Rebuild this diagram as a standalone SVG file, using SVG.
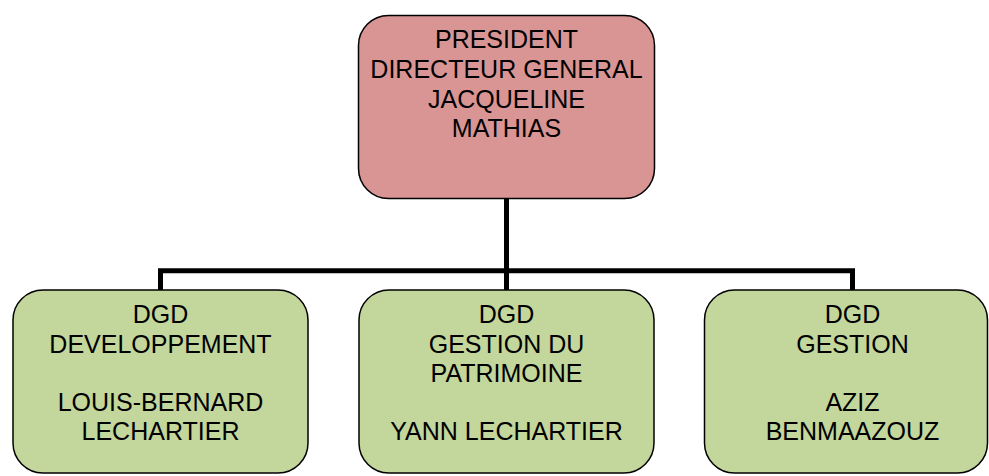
<svg xmlns="http://www.w3.org/2000/svg" width="989" height="476" viewBox="0 0 989 476">
<style>
.box{stroke:#000;stroke-width:1.5}
.top{fill:#D99594}
.sub{fill:#C3D69B}
.conn{fill:none;stroke:#000;stroke-width:5;stroke-linejoin:miter;stroke-linecap:butt}
text{font-family:"Liberation Sans",Arial,sans-serif;font-size:25px;fill:#000;text-anchor:middle}
</style>
<rect width="989" height="476" fill="#fff"/>
<g id="connectors">
<path class="conn" d="M506.5,198 V290"/>
<path class="conn" d="M160.5,290 V270.8 H852.5 V290"/>
</g>
<g id="president">
<rect class="box top" x="358.5" y="15.5" width="296" height="183" rx="30"/>
<text x="506.5" y="48.3">PRESIDENT</text>
<text x="506.5" y="78">DIRECTEUR GENERAL</text>
<text x="506.5" y="107.5">JACQUELINE</text>
<text x="506.5" y="137">MATHIAS</text>
</g>
<g id="dgd-developpement">
<rect class="box sub" x="13" y="290" width="295" height="183" rx="30"/>
<text x="160.5" y="323.3">DGD</text>
<text x="160.5" y="352.7">DEVELOPPEMENT</text>
<text x="160.5" y="410.7">LOUIS-BERNARD</text>
<text x="160.5" y="440">LECHARTIER</text>
</g>
<g id="dgd-patrimoine">
<rect class="box sub" x="359" y="290" width="295" height="183" rx="30"/>
<text x="506.5" y="323.3">DGD</text>
<text x="506.5" y="352.7">GESTION DU</text>
<text x="506.5" y="381.7">PATRIMOINE</text>
<text x="506.5" y="440">YANN LECHARTIER</text>
</g>
<g id="dgd-gestion">
<rect class="box sub" x="704.5" y="290" width="283" height="183" rx="30"/>
<text x="852.5" y="323.3">DGD</text>
<text x="852.5" y="352.7">GESTION</text>
<text x="852.5" y="410.7">AZIZ</text>
<text x="852.5" y="440">BENMAAZOUZ</text>
</g>
</svg>
